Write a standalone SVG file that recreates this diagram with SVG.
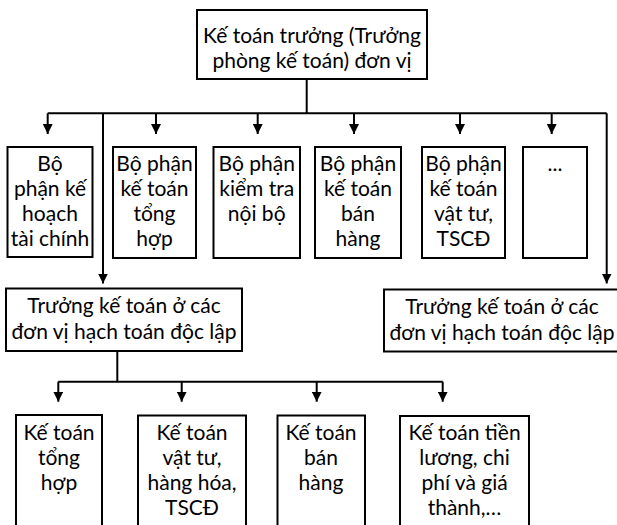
<svg xmlns="http://www.w3.org/2000/svg" width="617" height="525" viewBox="0 0 617 525">
<style>
.box{fill:#fff;stroke:#000;stroke-width:2}
.t{font-family:Lato,"Open Sans","Liberation Sans",sans-serif;font-size:21px;fill:#000;text-anchor:middle}
.c{fill:none;stroke:#000;stroke-width:2}
</style>
<defs>
<marker id="ah" viewBox="0 0 10 10" refX="10" refY="5" markerWidth="10" markerHeight="10" markerUnits="userSpaceOnUse" orient="auto">
<path d="M0,0 L10,5 L0,10 z" fill="#000"/>
</marker>
</defs>
<rect width="617" height="525" fill="#fff"/>
<g id="connectors">
<path class="c" d="M306.7,79 V113.3"/>
<path class="c" d="M47.7,113.3 H606.7"/>
<path class="c" d="M47.7,113.3 V134" marker-end="url(#ah)"/>
<path class="c" d="M156,113.3 V134" marker-end="url(#ah)"/>
<path class="c" d="M257.7,113.3 V134" marker-end="url(#ah)"/>
<path class="c" d="M354,113.3 V134" marker-end="url(#ah)"/>
<path class="c" d="M460,113.3 V134" marker-end="url(#ah)"/>
<path class="c" d="M551.7,113.3 V134" marker-end="url(#ah)"/>
<path class="c" d="M103,113.3 V283.5" marker-end="url(#ah)"/>
<path class="c" d="M606.7,113.3 V283.5" marker-end="url(#ah)"/>
<path class="c" d="M117.3,351 V381.7"/>
<path class="c" d="M58.3,381.7 H442.7"/>
<path class="c" d="M58.3,381.7 V401.7" marker-end="url(#ah)"/>
<path class="c" d="M181.7,381.7 V401.7" marker-end="url(#ah)"/>
<path class="c" d="M316.7,381.7 V401.7" marker-end="url(#ah)"/>
<path class="c" d="M442.7,381.7 V401.7" marker-end="url(#ah)"/>
</g>
<g id="top">
<rect class="box" x="197" y="10" width="230" height="69"/>
<text class="t" x="312" y="43">Kế toán trưởng (Trưởng</text>
<text class="t" x="312" y="68">phòng kế toán) đơn vị</text>
</g>
<g id="b1">
<rect class="box" x="7.5" y="147" width="85" height="110"/>
<text class="t" x="50" y="171">Bộ</text>
<text class="t" x="50" y="196">phận kế</text>
<text class="t" x="50" y="221">hoạch</text>
<text class="t" x="50" y="246">tài chính</text>
</g>
<g id="b2">
<rect class="box" x="113" y="147" width="83" height="111"/>
<text class="t" x="154.5" y="171">Bộ phận</text>
<text class="t" x="154.5" y="196">kế toán</text>
<text class="t" x="154.5" y="221">tổng</text>
<text class="t" x="154.5" y="246">hợp</text>
</g>
<g id="b3">
<rect class="box" x="213.5" y="147" width="86.5" height="111"/>
<text class="t" x="256.7" y="171">Bộ phận</text>
<text class="t" x="256.7" y="196">kiểm tra</text>
<text class="t" x="256.7" y="221">nội bộ</text>
</g>
<g id="b4">
<rect class="box" x="315" y="147" width="86" height="111"/>
<text class="t" x="358" y="171">Bộ phận</text>
<text class="t" x="358" y="196">kế toán</text>
<text class="t" x="358" y="221">bán</text>
<text class="t" x="358" y="246">hàng</text>
</g>
<g id="b5">
<rect class="box" x="422" y="147" width="83" height="111"/>
<text class="t" x="463.5" y="171">Bộ phận</text>
<text class="t" x="463.5" y="196">kế toán</text>
<text class="t" x="463.5" y="221">vật tư,</text>
<text class="t" x="463.5" y="246">TSCĐ</text>
</g>
<g id="b6">
<rect class="box" x="523" y="147" width="64" height="111"/>
<text class="t" x="555" y="171">...</text>
</g>
<g id="tl">
<rect class="box" x="6" y="288.5" width="236" height="62.5"/>
<text class="t" x="124" y="313">Trưởng kế toán ở các</text>
<text class="t" x="124" y="339">đơn vị hạch toán độc lập</text>
</g>
<g id="tr">
<rect class="box" x="384" y="289.5" width="236" height="62"/>
<text class="t" x="502" y="314">Trưởng kế toán ở các</text>
<text class="t" x="502" y="340">đơn vị hạch toán độc lập</text>
</g>
<g id="c1">
<rect class="box" x="16" y="415" width="86" height="120"/>
<text class="t" x="59" y="440">Kế toán</text>
<text class="t" x="59" y="465">tổng</text>
<text class="t" x="59" y="490">hợp</text>
</g>
<g id="c2">
<rect class="box" x="138" y="415.5" width="108" height="120"/>
<text class="t" x="192" y="440">Kế toán</text>
<text class="t" x="192" y="465">vật tư,</text>
<text class="t" x="192" y="490">hàng hóa,</text>
<text class="t" x="192" y="515">TSCĐ</text>
</g>
<g id="c3">
<rect class="box" x="277.5" y="415.5" width="87.5" height="120"/>
<text class="t" x="321" y="440">Kế toán</text>
<text class="t" x="321" y="465">bán</text>
<text class="t" x="321" y="490">hàng</text>
</g>
<g id="c4">
<rect class="box" x="400" y="416" width="129" height="120"/>
<text class="t" x="464.5" y="440">Kế toán tiền</text>
<text class="t" x="464.5" y="465">lương, chi</text>
<text class="t" x="464.5" y="490">phí và giá</text>
<text class="t" x="464.5" y="515">thành,…</text>
</g>
</svg>
